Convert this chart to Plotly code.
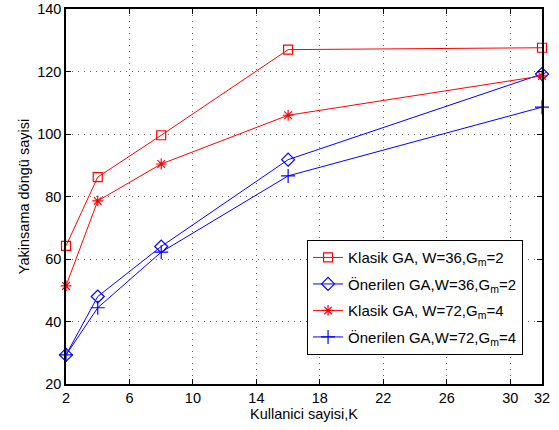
import plotly.graph_objects as go

# Number of users K
users = [2, 4, 8, 16, 32]

# Convergence iteration counts per configuration
klasik_w36 = [64.2, 86.2, 99.6, 127.0, 127.6]
onerilen_w36 = [29.3, 48.0, 64.0, 91.8, 119.2]
klasik_w72 = [51.4, 78.6, 90.4, 106.0, 118.6]
onerilen_w72 = [29.3, 44.4, 62.2, 86.6, 108.6]

x_ticks = [2, 6, 10, 14, 18, 22, 26, 30, 32]
y_ticks = [20, 40, 60, 80, 100, 120, 140]

RED = "#ff0000"
BLUE = "#0000ff"

series = [
    ("Klasik GA, W=36,G<sub>m</sub>=2", klasik_w36, RED, "square-open", 9),
    ("Önerilen GA,W=36,G<sub>m</sub>=2", onerilen_w36, BLUE, "diamond-open", 10),
    ("Klasik GA, W=72,G<sub>m</sub>=4", klasik_w72, RED, "asterisk-open", 9),
    ("Önerilen GA,W=72,G<sub>m</sub>=4", onerilen_w72, BLUE, "cross-thin-open", 10),
]

fig = go.Figure()
for i, (name, vals, color, symbol, size) in enumerate(series):
    fig.add_trace(go.Scatter(
        x=users, y=vals, name=name, mode="lines+markers",
        legendgroup=f"g{i}", cliponaxis=False,
        line=dict(color=color, width=1),
        marker=dict(symbol=symbol, size=size, color=color,
                    line=dict(color=color, width=1.2)),
    ))

axis_common = dict(
    showline=True, linecolor="black", linewidth=1.5, mirror="ticks",
    ticks="inside", ticklen=5, tickcolor="black",
    showgrid=True, gridcolor="#666666", griddash="1px,5px", gridwidth=1,
    zeroline=False, tickfont=dict(size=14.5, color="black"),
    automargin=False,
)

fig.update_layout(
    width=559, height=430,
    margin=dict(l=66, r=17, t=9, b=46),
    paper_bgcolor="white", plot_bgcolor="white",
    font=dict(family="Liberation Sans, Arial, sans-serif", size=14.5, color="black"),
    xaxis=dict(range=[2, 32], tickvals=x_ticks,
               title=dict(text="Kullanici sayisi,K", standoff=4, font=dict(size=14.5)),
               **axis_common),
    yaxis=dict(range=[20, 140], tickvals=y_ticks,
               title=dict(text="Yakinsama döngü sayisi", standoff=4, font=dict(size=14.5)),
               **axis_common),
    legend=dict(x=0.506, y=0.384, xanchor="left", yanchor="top",
                bordercolor="black", borderwidth=1.2, bgcolor="white",
                font=dict(size=15), tracegroupgap=4, itemwidth=30),
    showlegend=True,
)

fig.write_html("out.html")
